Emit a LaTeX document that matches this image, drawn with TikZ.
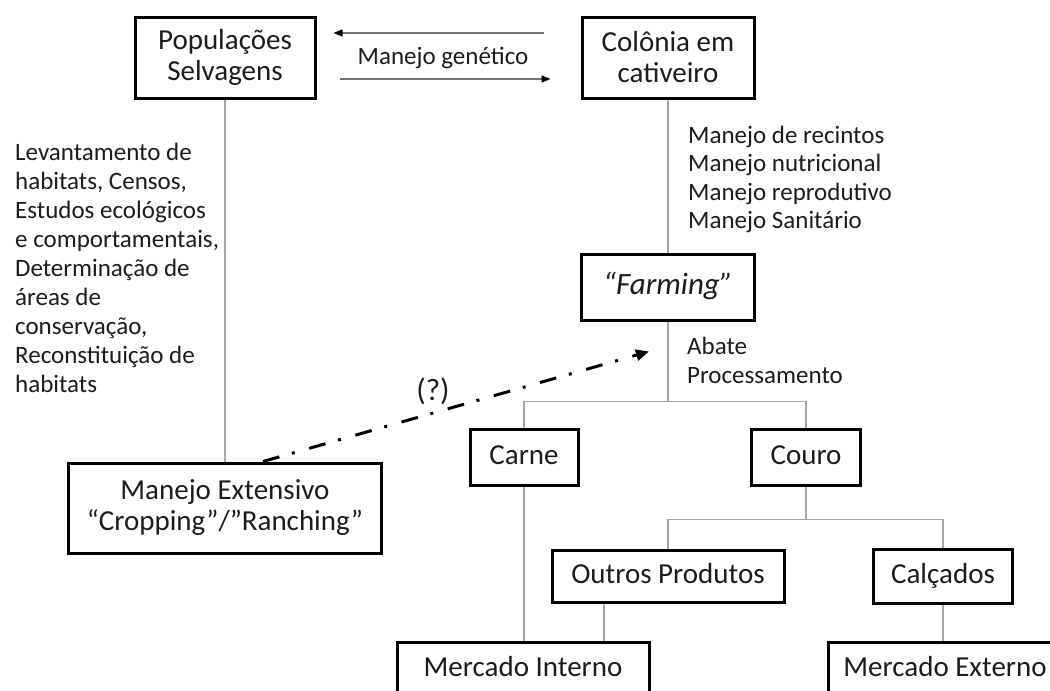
\documentclass[tikz,border=0pt]{standalone}
\usepackage{fontspec}
\setmainfont{Carlito}
\usetikzlibrary{arrows.meta,calc}
\definecolor{connc}{RGB}{165,165,165}
\definecolor{txt}{RGB}{28,28,28}
\begin{document}
\begin{tikzpicture}[x=1pt,y=-1pt,
  box/.style={draw=black,line width=3pt,text=txt,align=center,inner sep=0pt,
              font=\fontsize{29}{31}\selectfont},
  oneline/.style={text height=20pt,text depth=6pt},
  conn/.style={draw=connc,line width=1.8pt},
  note/.style={text=txt,align=left,inner sep=0pt,font=\fontsize{25}{29}\selectfont},
  genarrow/.style={draw=black!55,line width=1.3pt,-{Triangle[length=9pt,width=7pt,color=black]}},
  dasharrow/.style={draw=black,line width=3pt,dash pattern=on 17pt off 13pt on 3pt off 15pt,
              -{Triangle[length=13pt,width=11pt]}}
]
\useasboundingbox (0,0) rectangle (1050,691);
\clip (0,0) rectangle (1050,691);

% boxes
\node[box,minimum width=180,minimum height=81] (pop) at (225,57.5) {Populações\\Selvagens};
\node[box,minimum width=172,minimum height=81] (col) at (668,57.5) {Colônia em\\cativeiro};
\node[box,oneline,minimum width=173,minimum height=66,font=\fontsize{31}{33}\selectfont] (farm) at (668,287) {\itshape “Farming”};
\node[box,oneline,minimum width=108,minimum height=56] (carne) at (524,457) {Carne};
\node[box,oneline,minimum width=109,minimum height=56] (couro) at (806,457) {Couro};
\node[box,minimum width=313,minimum height=90] (ext) at (225,508) {Manejo Extensivo\\“Cropping”/”Ranching”};
\node[box,oneline,minimum width=232,minimum height=52] (outros) at (668,576) {Outros Produtos};
\node[box,oneline,minimum width=139,minimum height=54] (calc) at (943,576) {Calçados};
\node[box,oneline,minimum width=252,minimum height=54] (mi) at (523,669) {Mercado Interno};
\node[box,oneline,minimum width=234,minimum height=54] (me) at (945,669) {Mercado Externo};

% texts
\node[note] (mg) at (443,58) {Manejo genético};
\node[note,anchor=north west] (left) at (15,143) {Levantamento de\\habitats, Censos,\\Estudos ecológicos\\e comportamentais,\\Determinação de\\áreas de\\conservação,\\Reconstituição de\\habitats};
\node[note,anchor=north west,font=\fontsize{25}{28.3}\selectfont] (mgmt) at (688,126) {Manejo de recintos\\Manejo nutricional\\Manejo reprodutivo\\Manejo Sanitário};
\node[note,anchor=north west] (abate) at (687,337) {Abate\\Processamento};
\node[note,font=\fontsize{31}{33}\selectfont] (q) at (433,391) {(?)};

% genetic management arrows
\path (col.west) ++(-37,-24.5) coordinate (t1);
\path (pop.east) ++(17,-24.5) coordinate (t2);
\path (pop.east) ++(23,21.5) coordinate (b1);
\path (col.west) ++(-30,21.5) coordinate (b2);
\draw[genarrow] (t1) -- (t2);
\draw[genarrow] (b1) -- (b2);

% connectors
\draw[conn] (pop.south) -- (ext.north);
\draw[conn] (col.south) -- (farm.north);
\draw[conn] (farm.south) -- ++(0,80) coordinate (j1);
\draw[conn] (carne.north) |- (j1) -| (couro.north);
\draw[conn] (couro.south) -- ++(0,33) coordinate (j2);
\draw[conn] (outros.north) |- (j2) -| (calc.north);
\draw[conn] (carne.south) -- (carne.south |- mi.north);
\path (outros.south) ++(-64,0) coordinate (o1);
\draw[conn] (o1) -- (o1 |- mi.north);
\draw[conn] (calc.south) -- (calc.south |- me.north);

% dashed arrow
\path (ext.north) ++(38,0) coordinate (d1);
\path (farm.south) ++(-19,30) coordinate (d2);
\draw[dasharrow] (d1) -- (d2);
\end{tikzpicture}
\end{document}
